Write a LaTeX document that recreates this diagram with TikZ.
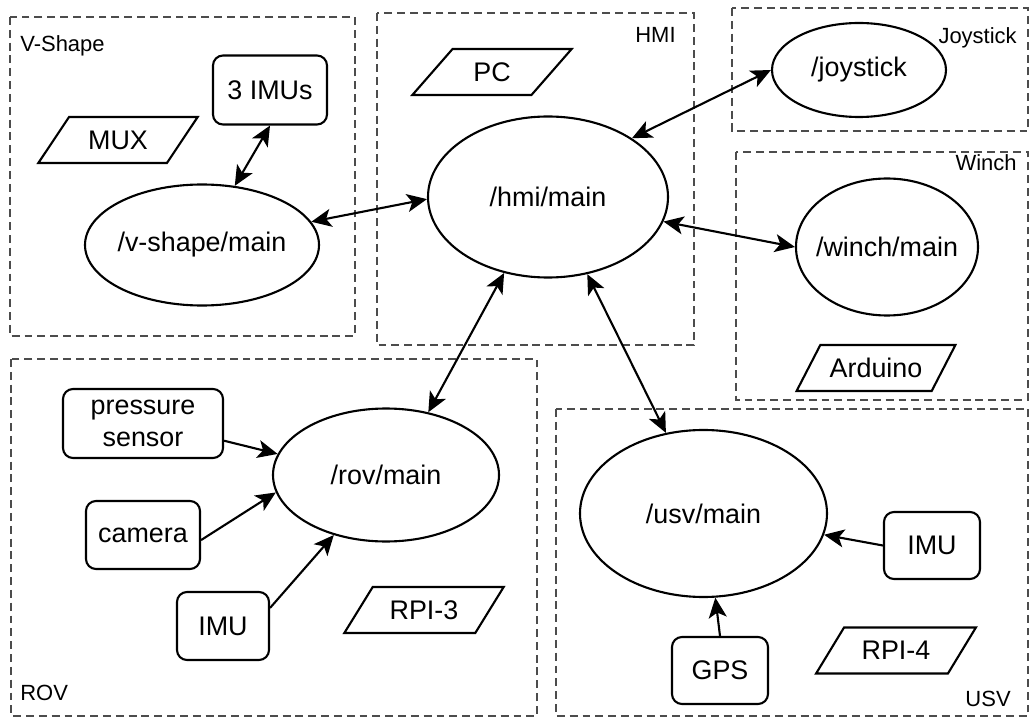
\documentclass[tikz,border=0pt]{standalone}
\usepackage{fontspec}
\setmainfont{Liberation Sans}
\usetikzlibrary{shapes.geometric,arrows.meta}

\newcommand\ntext[1]{\makebox[0pt]{#1}}

\begin{document}
\begin{tikzpicture}[
  x=0.2mm, y=-0.2mm,
  >={Stealth[length=4mm,width=3.6mm,inset=1mm]},
  txt/.style={font=\fontsize{15.3}{18.5}\selectfont},
  node/.style={ellipse, draw, line width=1.2pt, inner sep=0pt, txt},
  dev/.style={rectangle, draw, rounded corners=2mm, line width=1.2pt, inner sep=0pt, align=center, txt},
  hw/.style={trapezium, trapezium left angle=45, trapezium right angle=135, trapezium stretches=true,
    draw, line width=1.2pt, inner sep=0pt, minimum width=3.2cm, minimum height=0.92cm, txt},
  group/.style={draw=black!70, dash pattern=on 4.5pt off 2.8pt, line width=0.65pt},
  glabel/.style={font=\fontsize{12.5}{15}\selectfont, inner sep=0pt},
  link/.style={line width=1.2pt}
]
\useasboundingbox (0,0) rectangle (1030,717);

% --- groups ---
\draw[group] (10,17) rectangle (355,336);
\draw[group] (377,13) rectangle (694,345);
\draw[group] (732,8) rectangle (1028,131);
\draw[group] (736,152) rectangle (1028,400);
\draw[group] (11,359) rectangle (537,716);
\draw[group] (556,409) rectangle (1028,716);

\node[glabel, anchor=west] (lvshape) at (20,46) {V-Shape};
\node[glabel, anchor=east] (lhmi) at (676,35) {HMI};
\node[glabel, anchor=east] (ljoy) at (1017,38) {Joystick};
\node[glabel, anchor=east] (lwinch) at (1017,163) {Winch};
\node[glabel, anchor=west] (lrov) at (20,693) {ROV};
\node[glabel, anchor=east] (lusv) at (1011,699) {USV};

% --- V-Shape ---
\node[node, minimum width=4.68cm, minimum height=2.42cm] (vmain) at (202,245) {\ntext{/v-shape/main}};
\node[dev, minimum width=2.28cm, minimum height=1.38cm] (imus) at (270,90) {3 IMUs};
\node[hw] (mux) at (118,140) {MUX};

% --- HMI ---
\node[node, minimum width=4.8cm, minimum height=3.22cm] (hmi) at (548,197) {\ntext{/hmi/main}};
\node[hw] (pc) at (492,72) {PC};

% --- Joystick / Winch ---
\node[node, minimum width=3.48cm, minimum height=1.88cm] (joy) at (859,70) {\ntext{/joystick}};
\node[node, minimum width=3.64cm, minimum height=2.74cm] (winch) at (887,247) {\ntext{/winch/main}};
\node[hw] (arduino) at (876,368) {Arduino};

% --- ROV ---
\node[node, minimum width=4.52cm, minimum height=2.66cm] (rov) at (386,475) {\ntext{/rov/main}};
\node[dev, minimum width=3.2cm, minimum height=1.38cm] (press) at (143,423.5) {pressure\\sensor};
\node[dev, minimum width=2.28cm, minimum height=1.36cm] (cam) at (143,535) {camera};
\node[dev, minimum width=1.84cm, minimum height=1.36cm] (rovimu) at (223,626) {IMU};
\node[hw] (rpi3) at (424,610) {RPI-3};

% --- USV ---
\node[node, minimum width=4.94cm, minimum height=3.34cm] (usv) at (703.5,513.5) {\ntext{/usv/main}};
\node[dev, minimum width=1.92cm, minimum height=1.34cm] (usvimu) at (932,545.5) {IMU};
\node[dev, minimum width=1.92cm, minimum height=1.34cm] (gps) at (720,670.5) {GPS};
\node[hw] (rpi4) at (896,650.5) {RPI-4};

% --- links ---
\draw[link, <->] (imus.south) -- (vmain.61);
\draw[link, <->] (vmain.12) -- (hmi.181);
\draw[link, <->] (hmi.35) -- (joy.west);
\draw[link, <->] (hmi.-12) -- (winch.west);
\draw[link, <->] (hmi.240) -- (rov.56);
\draw[link, <->] (hmi.297) -- (usv.115);

\draw[link, ->] (press.-12) -- (rov.169);
\draw[link, ->] (cam.-5) -- (rov.189);
\draw[link, ->] (rovimu.21) -- (rov.229);
\draw[link, ->] (usvimu.west) -- (usv.-10);
\draw[link, ->] (gps.north) -- (usv.-82);

\end{tikzpicture}
\end{document}
